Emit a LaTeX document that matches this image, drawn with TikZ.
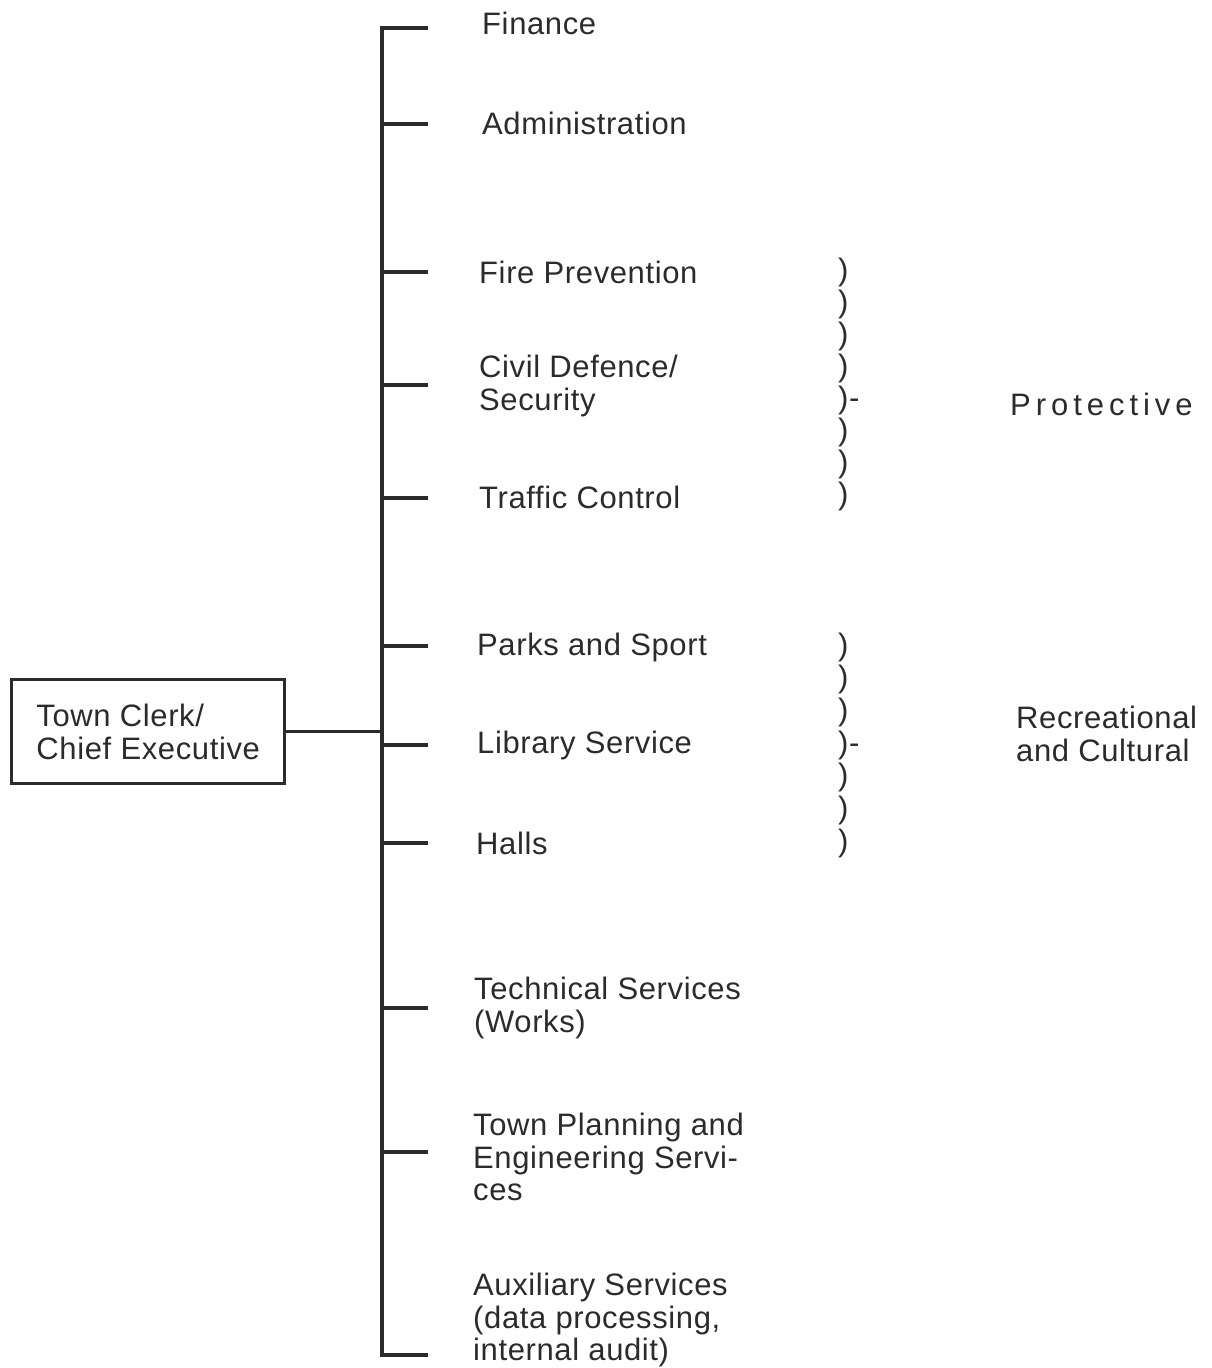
\documentclass[tikz,border=0pt]{standalone}
\usepackage{fontspec}
\setmainfont{Liberation Sans}[LetterSpace=2]
\definecolor{ink}{HTML}{2B2B2B}
\begin{document}
\begin{tikzpicture}[x=1pt,y=-1pt,
  lbl/.style={anchor=west, inner sep=0pt, align=left, text=ink,
              font=\fontsize{31}{32.5}\selectfont},
  link/.style={line width=3.4pt, draw=ink},
  headbox/.style={draw=ink, line width=3.4pt, align=left, inner xsep=20pt,
              minimum width=273pt, minimum height=104pt, anchor=north west,
              text=ink, font=\fontsize{31}{32.5}\selectfont}]
\useasboundingbox (0,0) rectangle (1212,1368);

% head of the organisation
\node[headbox] (tc) at (10,678) {Town Clerk/\\Chief Executive};

% trunk with its top and bottom corners
\coordinate (ttop) at (382,28);
\coordinate (tbot) at (382,1355);
\coordinate (ttopend) at (428,28);
\coordinate (tbotend) at (428,1355);
\draw[link] (ttopend) -- (ttop) -- (tbot) -- (tbotend);
\draw[link] (tc.east) -- (tc.east -| ttop);

% branch ticks
\foreach \y [count=\k] in {124,272,385,498,646,745,843,1008,1152} {
  \coordinate (b\k) at (382,\y);
  \coordinate (e\k) at (428,\y);
  \draw[link] (b\k) -- (e\k);
}

% departments
\node[lbl] (fin)  at (482,23)   {Finance};
\node[lbl] (adm)  at (482,123)  {Administration};
\node[lbl] (fire) at (479,272)  {Fire Prevention};
\node[lbl] (civ)  at (479,386)  {Civil Defence/\\Security};
\node[lbl] (traf) at (479,497)  {Traffic Control};
\node[lbl] (park) at (477,647)  {Parks and Sport};
\node[lbl] (lib)  at (477,745)  {Library Service};
\node[lbl] (hall) at (476,843)  {Halls};
\node[lbl] (tech) at (474,1008) {Technical Services\\(Works)};
\node[lbl] (plan) at (473,1157) {Town Planning and\\Engineering Servi-\\ces};
\node[lbl] (aux)  at (473,1320) {Auxiliary Services\\(data processing,\\internal audit)};

% grouping brackets
\foreach \t [count=\k from 0] in {),),),),)-,),),)} {
  \node[lbl] (pp\k) at (838,272+32.1*\k) {\t};
}
\foreach \t [count=\k from 0] in {),),),)-,),),)} {
  \node[lbl] (rp\k) at (838,647+32.7*\k) {\t};
}

% group names
\node[lbl, font=\fontsize{31}{32.5}\selectfont\addfontfeature{LetterSpace=16}] (prot) at (1010,404) {Protective};
\node[lbl] (recr) at (1016,734) {Recreational\\and Cultural};
\end{tikzpicture}
\end{document}
